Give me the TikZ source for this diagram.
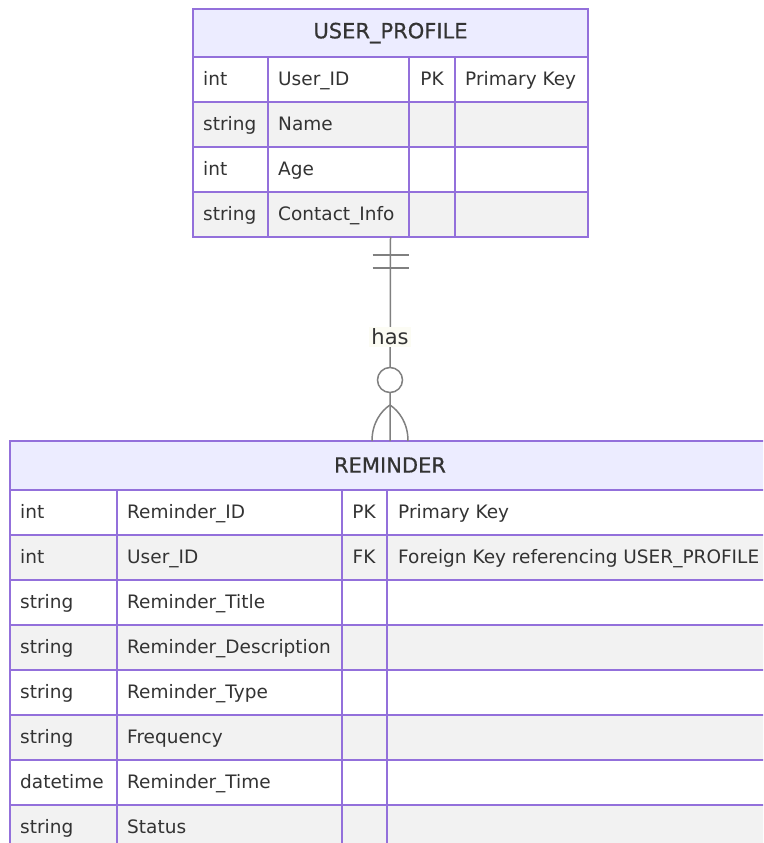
\documentclass[tikz,border=0pt]{standalone}
\usepackage{fontspec}
\setmainfont{DejaVu Sans}
\newfontfamily\erheadfont[FakeBold=0.6]{DejaVu Sans}
\usetikzlibrary{calc}
\definecolor{erline}{HTML}{9370DB}
\definecolor{erhead}{HTML}{ECECFF}
\definecolor{erodd}{HTML}{FFFFFF}
\definecolor{ereven}{HTML}{F2F2F2}
\definecolor{ertext}{HTML}{333333}
\definecolor{relline}{HTML}{808080}
\tikzset{
  grid/.style={draw=erline, line width=1.6pt},
  cell/.style={inner sep=0pt, text height=15pt, text depth=3pt, text=ertext, font=\fontsize{18.5}{20}\selectfont},
  headtext/.style={inner sep=0pt, text=ertext, font=\erheadfont\fontsize{21}{24}\selectfont},
  anchorbox/.style={inner sep=0pt, outer sep=0pt, anchor=north west},
  rel/.style={draw=relline, line width=1.5pt},
  rellabel/.style={inner sep=2pt, fill={rgb,255:red,252;green,252;blue,244}, text=ertext, font=\fontsize{21}{24}\selectfont},
}
\begin{document}
\begin{tikzpicture}[x=1pt,y=-1pt]
\useasboundingbox (0,0) rectangle (763,843);
\fill[white] (0,0) rectangle (763,843);
\clip (0,0) rectangle (763,843);

% ---------- USER_PROFILE ----------
\node[anchorbox, minimum width=395pt, minimum height=228pt] (up) at (193,9) {};
\fill[erhead] (193,9) rectangle (588,57);
\foreach \i/\f/\t/\n/\k/\c in {0/erodd/int/User\_ID/PK/Primary Key,
                                1/ereven/string/Name//,
                                2/erodd/int/Age//,
                                3/ereven/string/Contact\_Info//}{
  \fill[\f] (193,57+45*\i) rectangle (588,102+45*\i);
  \node[cell, anchor=west] (up-t\i) at (203,79.5+45*\i) {\t};
  \node[cell, anchor=west] (up-n\i) at (278,79.5+45*\i) {\n};
  \node[cell] (up-k\i) at (432,79.5+45*\i) {\k};
  \node[cell, anchor=west] (up-c\i) at (465,79.5+45*\i) {\c};
}
\node[headtext] (up-head) at (390.5,33) {USER\_PROFILE};
\foreach \y in {57,102,147,192}{ \draw[grid] (193,\y) -- (588,\y); }
\foreach \x in {268,409,455}{ \draw[grid] (\x,57) -- (\x,237); }
\draw[grid] (193,9) rectangle (588,237);

% ---------- REMINDER ----------
\node[anchorbox, minimum width=760pt, minimum height=409pt] (rem) at (10,441) {};
\fill[erhead] (10,441) rectangle (770,490);
\foreach \i/\f/\t/\n/\k/\c in {0/erodd/int/Reminder\_ID/PK/Primary Key,
                                1/ereven/int/User\_ID/FK/Foreign Key referencing USER\_PROFILE,
                                2/erodd/string/Reminder\_Title//,
                                3/ereven/string/Reminder\_Description//,
                                4/erodd/string/Reminder\_Type//,
                                5/ereven/string/Frequency//,
                                6/erodd/datetime/Reminder\_Time//,
                                7/ereven/string/Status//}{
  \fill[\f] (10,490+45*\i) rectangle (770,535+45*\i);
  \node[cell, anchor=west] (rem-t\i) at (20,512.5+45*\i) {\t};
  \node[cell, anchor=west] (rem-n\i) at (127,512.5+45*\i) {\n};
  \node[cell] (rem-k\i) at (364,512.5+45*\i) {\k};
  \node[cell, anchor=west] (rem-c\i) at (398,512.5+45*\i) {\c};
}
\node[headtext] (rem-head) at (390,465) {REMINDER};
\foreach \y in {490,535,...,805}{ \draw[grid] (10,\y) -- (770,\y); }
\foreach \x in {117,342,387}{ \draw[grid] (\x,490) -- (\x,850); }
\draw[grid] (10,441) rectangle (770,850);

% ---------- relationship: exactly one  --has-->  zero or more ----------
\draw[rel] (up.south) -- (rem.north);
\draw[rel] ($(up.south)+(-18,18)$) -- ($(up.south)+(18,18)$);
\draw[rel] ($(up.south)+(-18,31)$) -- ($(up.south)+(18,31)$);
\coordinate (foot) at ($(rem.north)+(0,-36)$);
\draw[rel] ($(rem.north)+(-18,0)$) .. controls ($(rem.north)+(-18,-18)$) and ($(foot)+(-9,6)$) .. (foot);
\draw[rel] ($(rem.north)+(18,0)$) .. controls ($(rem.north)+(18,-18)$) and ($(foot)+(9,6)$) .. (foot);
\draw[rel, fill=white] ($(rem.north)+(0,-61)$) circle[radius=12.5pt];
\node[rellabel] (has) at (390,337) {has};
\end{tikzpicture}
\end{document}
